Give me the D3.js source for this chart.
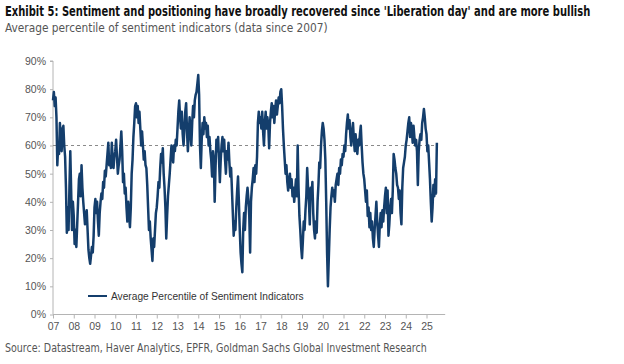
<!DOCTYPE html>
<html>
<head>
<meta charset="utf-8">
<script src="https://cdn.jsdelivr.net/npm/d3@7"></script>
<style>
  html, body { margin: 0; padding: 0; background: #fff; }
  svg { display: block; }
</style>
</head>
<body>
<svg id="chart" width="624" height="364"></svg>
<script>
// ---- Data (half-monthly readings, starting Jan 2007) ----
const startYear = 2007;
const pointsPerYear = 24;
const sentiment = [
  // 2007
  76, 79, 74, 77, 70, 53, 60, 57, 68, 62, 58, 66, 67, 60, 56, 45, 29, 38, 30, 45, 58, 44, 30, 40,
  // 2008
  35, 25, 30, 24, 32, 40, 48, 50, 42, 53, 45, 40, 36, 32, 35, 37, 30, 23, 20, 18, 21, 24, 22, 28,
  // 2009
  38, 41, 36, 40, 33, 28, 36, 40, 43, 41, 47, 45, 51, 49, 53, 57, 61, 53, 56, 52, 61, 55, 52, 56,
  // 2010
  58, 62, 56, 50, 53, 55, 60, 65, 58, 47, 50, 43, 45, 38, 33, 40, 35, 31, 38, 50, 55, 63, 68, 74,
  // 2011
  75, 70, 74, 68, 72, 66, 60, 65, 60, 55, 58, 53, 52, 46, 38, 30, 33, 27, 23, 19, 27, 24, 30, 36,
  // 2012
  38, 42, 47, 45, 52, 57, 54, 59, 50, 45, 38, 27, 35, 42, 46, 50, 55, 60, 57, 54, 60, 58, 62, 60,
  // 2013
  66, 72, 76, 70, 66, 72, 64, 60, 66, 72, 75, 65, 58, 64, 70, 65, 60, 68, 74, 70, 76, 78, 79, 82,
  // 2014
  85, 78, 60, 52, 62, 68, 64, 70, 66, 68, 63, 67, 60, 63, 58, 55, 49, 58, 55, 40, 52, 62, 58, 63,
  // 2015
  55, 47, 55, 60, 63, 58, 62, 55, 50, 58, 55, 61, 54, 49, 52, 44, 36, 28, 33, 30, 38, 44, 49, 40,
  // 2016
  30, 22, 18, 15, 30, 36, 30, 38, 42, 45, 41, 35, 22, 40, 45, 48, 52, 47, 53, 50, 56, 68, 72, 68,
  // 2017
  70, 66, 72, 65, 60, 68, 72, 66, 70, 67, 59, 68, 72, 75, 70, 74, 68, 73, 76, 71, 74, 77, 75, 79,
  // 2018
  80, 74, 66, 60, 55, 50, 53, 47, 44, 48, 50, 45, 48, 42, 45, 40, 44, 48, 42, 60, 45, 35, 30, 24,
  // 2019
  20, 26, 33, 30, 37, 42, 52, 45, 40, 32, 45, 42, 47, 36, 30, 27, 33, 29, 40, 46, 54, 52, 60, 65,
  // 2020
  68, 66, 62, 55, 40, 22, 10, 20, 30, 38, 42, 45, 42, 44, 40, 46, 48, 50, 46, 52, 50, 55, 53, 57,
  // 2021
  56, 60, 58, 64, 68, 71, 66, 69, 63, 60, 65, 68, 62, 58, 64, 60, 57, 62, 60, 64, 67, 60, 54, 50,
  // 2022
  48, 44, 40, 44, 35, 38, 31, 36, 30, 33, 27, 24, 30, 35, 40, 33, 28, 24, 32, 36, 31, 37, 33, 38,
  // 2023
  42, 45, 36, 44, 28, 32, 38, 41, 36, 44, 57, 55, 52, 50, 46, 45, 41, 44, 36, 32, 45, 52, 54, 56,
  // 2024
  60, 62, 65, 68, 70, 63, 68, 66, 61, 67, 63, 60, 62, 58, 46, 58, 62, 64, 62, 68, 70, 73, 70, 66,
  // 2025
  64, 58, 60, 54, 48, 40, 33, 38, 46, 42, 48, 43, 61
];
const yearTicks = [2007, 2008, 2009, 2010, 2011, 2012, 2013, 2014, 2015, 2016, 2017, 2018, 2019, 2020, 2021, 2022, 2023, 2024, 2025];
const yearLabels = ["07", "08", "09", "10", "11", "12", "13", "14", "15", "16", "17", "18", "19", "20", "21", "22", "23", "24", "25"];
const yTickValues = [0, 10, 20, 30, 40, 50, 60, 70, 80, 90];
const referenceLevel = 60;

const titleText = "Exhibit 5: Sentiment and positioning have broadly recovered since 'Liberation day' and are more bullish";
const subtitleText = "Average percentile of sentiment indicators (data since 2007)";
const legendText = "Average Percentile of Sentiment Indicators";
const sourceText = "Source: Datastream, Haver Analytics, EPFR, Goldman Sachs Global Investment Research";

// ---- Drawing ----
const svg = d3.select("#chart");
const lineColor = "#143e6c";
const axisColor = "#b4b4b4";
const labelColor = "#555";
const narrow = "'Liberation Sans Narrow', 'DejaVu Sans Condensed', 'Roboto Condensed', Arial, sans-serif";
const sans = "'Liberation Sans', Arial, sans-serif";

const data = sentiment.map((v, i) => ({ t: startYear + i / pointsPerYear, v }));

const x = d3.scaleLinear().domain([2007, 2026]).range([53, 447.25]);
const y = d3.scaleLinear().domain([0, 90]).range([314.5, 61]);

// Text fitted to a target width by horizontal scaling
function fittedText(str, px, py, targetWidth, attrs) {
  const t = svg.append("text").attr("x", 0).attr("y", 0);
  Object.entries(attrs).forEach(([k, v]) => t.attr(k, v));
  t.text(str);
  const natural = t.node().getComputedTextLength();
  const s = targetWidth / natural;
  t.attr("transform", `translate(${px},${py}) scale(${s},1)`);
  return t;
}

// Title & subtitle
fittedText(titleText, 5, 16, 586, {
  "font-family": narrow, "font-weight": "bold", "font-size": 14.5, "fill": "#111"
});
fittedText(subtitleText, 5, 32, 323, {
  "font-family": narrow, "font-size": 12.5, "fill": labelColor
});

// Y axis
const yAxis = d3.axisLeft(y).tickValues(yTickValues).tickSize(3).tickPadding(4)
  .tickFormat(d => d + "%");
const gy = svg.append("g").attr("transform", "translate(53,0)").call(yAxis);
gy.select(".domain").attr("stroke", axisColor).attr("d", `M-3,${y(90)}H0V${y(0)}`);
gy.selectAll(".tick line").attr("stroke", axisColor);
gy.selectAll(".tick text").attr("fill", labelColor).attr("font-family", sans).attr("font-size", 10.5);

// X axis
const xAxis = d3.axisBottom(x).tickValues(yearTicks).tickSize(4).tickPadding(4)
  .tickFormat((d, i) => yearLabels[i]);
const gx = svg.append("g").attr("transform", `translate(0,${y(0)})`).call(xAxis);
gx.select(".domain").attr("stroke", axisColor).attr("d", `M${x(2007)},0H${x(2025.9)}`);
gx.selectAll(".tick line").attr("stroke", axisColor);
gx.selectAll(".tick text").attr("fill", labelColor).attr("font-family", sans).attr("font-size", 10.5);

// Reference dashed line at 60%
svg.append("line")
  .attr("x1", x(2007)).attr("x2", x(data[data.length - 1].t))
  .attr("y1", y(referenceLevel)).attr("y2", y(referenceLevel))
  .attr("stroke", "#8a8a8a").attr("stroke-width", 1).attr("stroke-dasharray", "3,3");

// Series line
const line = d3.line().x(d => x(d.t)).y(d => y(d.v));
svg.append("path").datum(data)
  .attr("d", line).attr("fill", "none")
  .attr("stroke", lineColor).attr("stroke-width", 2.5).attr("stroke-linejoin", "round");

// Legend
svg.append("line").attr("x1", 88).attr("x2", 107).attr("y1", 296).attr("y2", 296)
  .attr("stroke", lineColor).attr("stroke-width", 2);
fittedText(legendText, 111, 299.5, 193, {
  "font-family": sans, "font-size": 10, "fill": "#333"
});

// Source
fittedText(sourceText, 5, 352, 422, {
  "font-family": narrow, "font-size": 12, "fill": labelColor
});
</script>
</body>
</html>
